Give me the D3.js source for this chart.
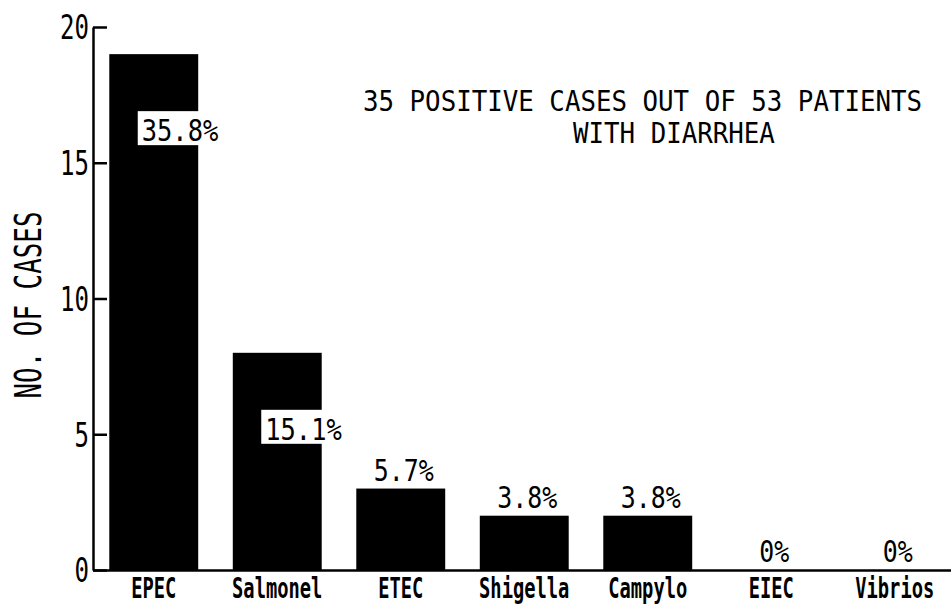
<!DOCTYPE html>
<html>
<head>
<meta charset="utf-8">
<script src="https://cdn.jsdelivr.net/npm/d3@7"></script>
<style>
  body { margin: 0; background: #fff; }
  text { font-family: "DejaVu Sans Mono", monospace; fill: #000; }
</style>
</head>
<body>
<svg></svg>
<script>
const width = 951,
  height = 606

const categories = ["EPEC", "Salmonel", "ETEC", "Shigella", "Campylo", "EIEC", "Vibrios"]
const cases = [19, 8, 3, 2, 2, 0, 0]
const percents = ["35.8%", "15.1%", "5.7%", "3.8%", "3.8%", "0%", "0%"]
const yTicks = [0, 5, 10, 15, 20]
const titleLines = ["35 POSITIVE CASES OUT OF 53 PATIENTS", "WITH DIARRHEA"]
const yTitle = "NO. OF CASES"

const svg = d3.select("svg").attr("width", width).attr("height", height)

const x = d3.scaleBand().domain(categories).range([92, 956.5]).paddingInner(0.28).paddingOuter(0.14)
const y = d3.scaleLinear().domain([0, 20]).range([570, 27])

// bars
svg.append("g")
  .selectAll("rect")
  .data(categories)
  .join("rect")
  .attr("x", d => x(d))
  .attr("y", (d, i) => y(cases[i]))
  .attr("width", x.bandwidth())
  .attr("height", (d, i) => y(0) - y(cases[i]))
  .attr("fill", "#000")

// y axis, ticks pointing inward
const yAxis = svg.append("g")
  .attr("transform", "translate(93,0)")
  .call(d3.axisLeft(y).tickValues(yTicks).tickSizeInner(-14).tickSizeOuter(0).tickPadding(5))
yAxis.select(".domain").attr("stroke-width", 2.5)
yAxis.selectAll(".tick line").attr("stroke-width", 2.5)
yAxis.selectAll(".tick text")
  .attr("x", 0)
  .attr("dy", "0.36em")
  .attr("font-size", 33)
  .attr("font-family", "DejaVu Sans Mono")
  .attr("transform", "translate(-4,0) scale(0.73,1)")

// x axis baseline + labels
const xAxis = svg.append("g")
  .attr("transform", "translate(0,570)")
  .call(d3.axisBottom(x).tickSize(0).tickPadding(0))
xAxis.select(".domain").remove()
svg.append("line")
  .attr("x1", 93).attr("x2", width)
  .attr("y1", 570.5).attr("y2", 570.5)
  .attr("stroke", "#000").attr("stroke-width", 2.5)
xAxis.selectAll(".tick text")
  .attr("y", 0)
  .attr("dy", 0)
  .attr("font-size", 28)
  .attr("font-weight", "bold")
  .attr("font-family", "DejaVu Sans Mono")
  .attr("transform", "translate(0,28) scale(0.67,1)")

// percentage labels
const lab = svg.append("g")
categories.forEach((c, i) => {
  const cx = x(c) + x.bandwidth() / 2
  const top = y(cases[i])
  if (i < 2) {
    const g = lab.append("g").attr("transform", `translate(${cx - 12},${top + 87})`)
    g.append("rect")
      .attr("x", -4).attr("y", -30)
      .attr("width", 82).attr("height", 34)
      .attr("fill", "#fff")
    g.append("text")
      .attr("font-size", 31)
      .attr("transform", "scale(0.82,1)")
      .text(percents[i])
  } else {
    lab.append("g")
      .attr("transform", `translate(${cx + 3},${top - 8})`)
      .append("text")
      .attr("text-anchor", "middle")
      .attr("font-size", 30)
      .attr("transform", "scale(0.83,1)")
      .text(percents[i])
  }
})

// title
svg.append("g").attr("transform", "translate(363,111)")
  .append("text")
  .attr("font-size", 29)
  .attr("transform", "scale(0.89,1)")
  .text(titleLines[0])
svg.append("g").attr("transform", "translate(573,143)")
  .append("text")
  .attr("font-size", 29)
  .attr("transform", "scale(0.89,1)")
  .text(titleLines[1])

// y axis title
svg.append("g").attr("transform", "translate(41,305) rotate(-90)")
  .append("text")
  .attr("text-anchor", "middle")
  .attr("font-size", 37)
  .attr("transform", "scale(0.7,1)")
  .text(yTitle)
</script>
</body>
</html>
